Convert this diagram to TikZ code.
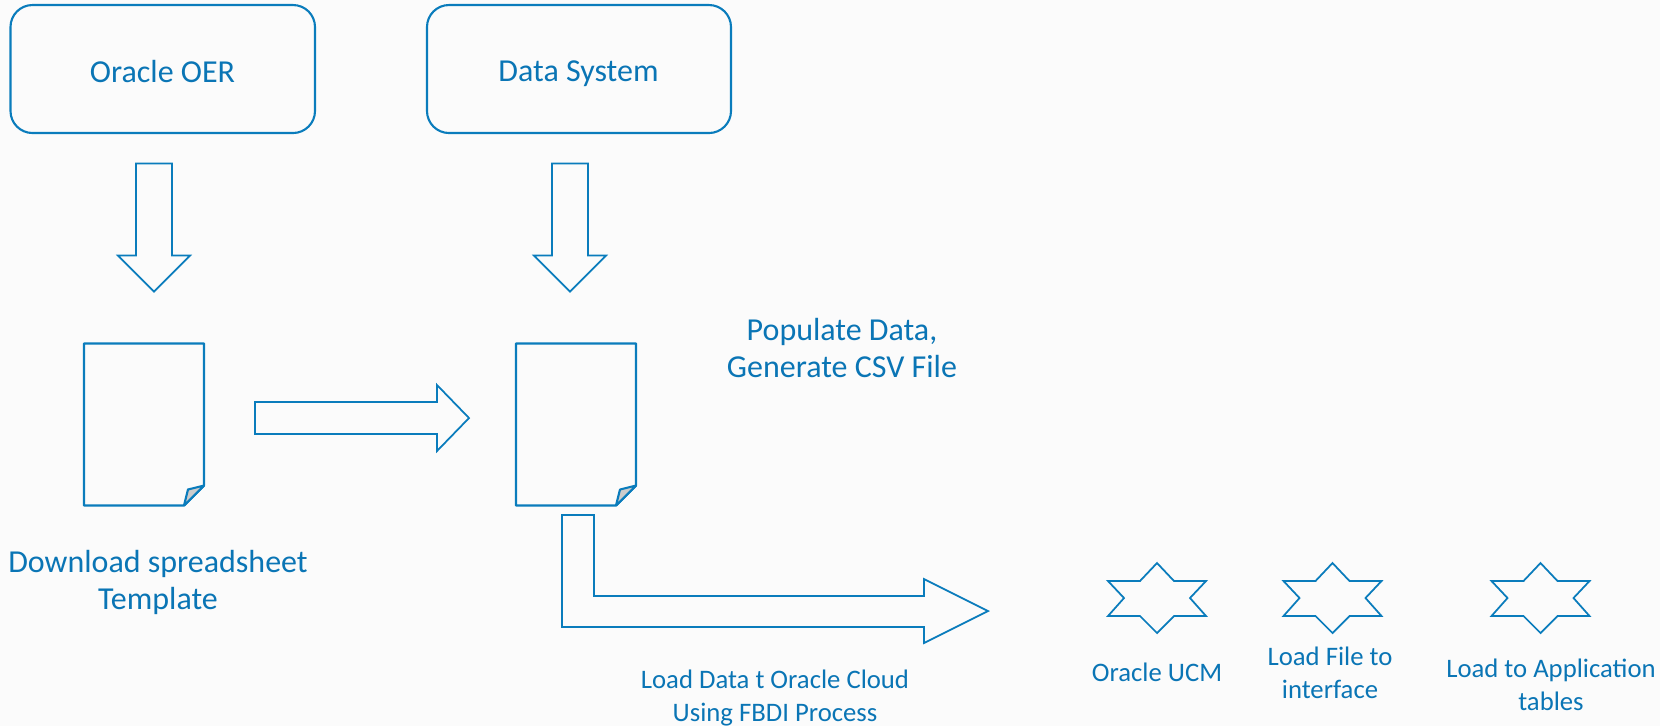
\documentclass[tikz,border=0pt]{standalone}
\usepackage{fontspec}
\setmainfont{Carlito}
\usetikzlibrary{calc}
\definecolor{oblue}{HTML}{0A7CBC}
\definecolor{otext}{HTML}{0A75B5}
\definecolor{opage}{HTML}{FBFBFB}
\tikzset{
	shapeline/.style={draw=oblue, line width=0.5pt, line join=miter},
	bigtext/.style={text=otext, align=center, inner sep=0, font=\fontsize{9.1}{10.5}\selectfont},
	smalltext/.style={text=otext, align=center, inner sep=0, font=\fontsize{7.6}{9.3}\selectfont},
}
\def\downblock(#1){\draw[shapeline] ($(#1)+(-0.18, 0)$) -- ++(0.36, 0) -- ++(0, 0.92) -- ++(0.18, 0) -- ++(-0.36, 0.36) -- ++(-0.36, -0.36) -- ++(0.18, 0) -- cycle;}
\def\docsheet(#1){
	\draw[shapeline, line width=0.6pt, line join=bevel] (#1) -- ++(1.2, 0) -- ++(0, 1.42) -- ++(-0.2, 0.2) -- ++(-1, 0) -- cycle;
	\draw[shapeline, line width=0.6pt, line join=bevel, fill=black!20] ($(#1)+(1.2, 1.42)$) -- ++(-0.16, 0.04) -- ++(-0.04, 0.16) -- cycle;
}
\def\starsix(#1){\draw[shapeline] ($(#1)+(0, -0.35)$) -- ++(0.17, 0.18) -- ++(0.32, 0) -- ++(-0.16, 0.17) -- ++(0.16, 0.18) -- ++(-0.32, 0) -- ++(-0.17, 0.17) -- ++(-0.17, -0.17) -- ++(-0.32, 0) -- ++(0.16, -0.18) -- ++(-0.16, -0.17) -- ++(0.32, 0) -- cycle;}
\begin{document}
\begin{tikzpicture}[x=1cm, y=-1cm]
			%%%%% PAGE %%%%%
			\fill[opage] (0, 0) rectangle (16.6, 7.26);
			\useasboundingbox (0, 0) rectangle (16.6, 7.26);
			
			%%%%% TOP BOXES %%%%%
			\draw[shapeline, line width=0.6pt, rounded corners=0.22cm] (0.105, 0.05) rectangle (3.15, 1.33);
			\draw[shapeline, line width=0.6pt, rounded corners=0.22cm] (4.27, 0.05) rectangle (7.31, 1.33);
			\node[bigtext] (oer) at (1.625, 0.71) {Oracle OER};
			\node[bigtext] (datasys) at (5.785, 0.74) {Data System};
			
			%%%%% DOWN ARROWS %%%%%
			\foreach \x in {1.54, 5.70} {
				\downblock(\x, 1.635)
			}
			
			%%%%% SHEETS %%%%%
			\docsheet(0.84, 3.435)
			\docsheet(5.16, 3.435)
			\node[bigtext] (download) at (1.58, 5.82) {Download spreadsheet\\Template};
			\node[bigtext] (populate) at (8.42, 3.48) {Populate Data,\\Generate CSV File};
			
			%%%%% RIGHT AND BENT ARROWS %%%%%
			\draw[shapeline] (2.55, 4.02) -- (4.37, 4.02) -- (4.37, 3.85) -- (4.69, 4.18) -- (4.37, 4.51) -- (4.37, 4.34) -- (2.55, 4.34) -- cycle;
			\draw[shapeline] (5.62, 5.15) -- (5.94, 5.15) -- (5.94, 5.96) -- (9.24, 5.96) -- (9.24, 5.79) -- (9.88, 6.11) -- (9.24, 6.43) -- (9.24, 6.27) -- (5.62, 6.27) -- cycle;
			\node[smalltext] (loaddata) at (7.75, 6.98) {Load Data t Oracle Cloud\\Using FBDI Process};
			
			%%%%% STARS %%%%%
			\foreach \x in {11.57, 13.325, 15.405} {
				\starsix(\x, 5.98)
			}
			\node[smalltext] (ucm) at (11.57, 6.72) {Oracle UCM};
			\node[smalltext] (loadfile) at (13.30, 6.725) {Load File to\\interface};
			\node[smalltext] (loadapp) at (15.51, 6.845) {Load to Application\\tables};
\end{tikzpicture}
\end{document}
